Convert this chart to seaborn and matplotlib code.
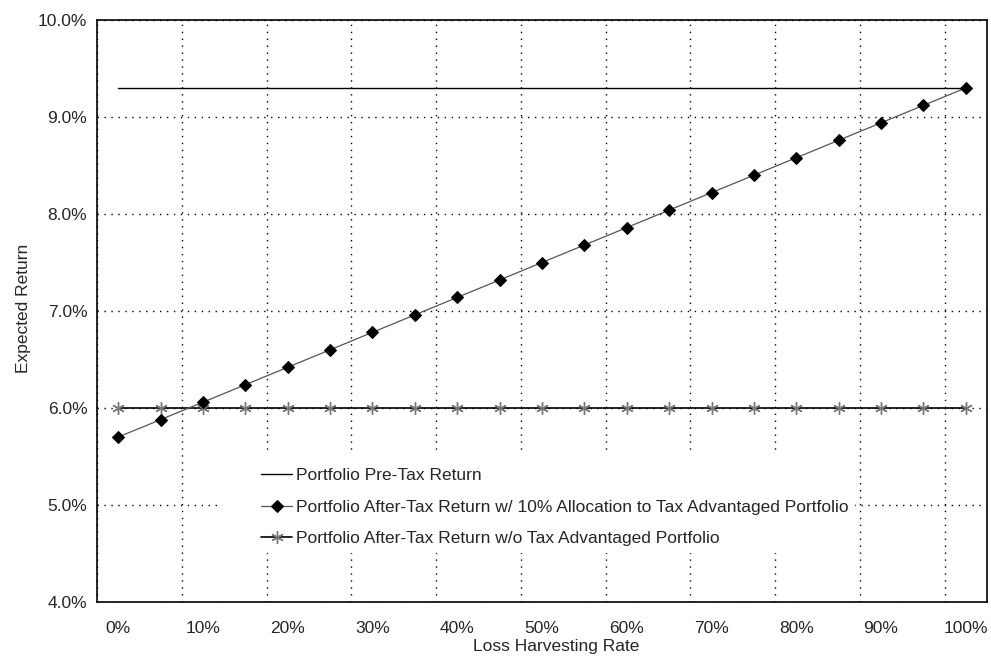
import numpy as np
import pandas as pd
import matplotlib
matplotlib.use('Agg')
import matplotlib.pyplot as plt
import seaborn as sns
from matplotlib.patches import Rectangle
from matplotlib.ticker import FuncFormatter

sns.set_style('white')
plt.rcParams['font.family'] = ['Liberation Sans', 'DejaVu Sans']

# Data (loss harvesting rate in 5% steps)
harvest_labels = ['0%', '5%', '10%', '15%', '20%', '25%', '30%', '35%', '40%', '45%', '50%',
                  '55%', '60%', '65%', '70%', '75%', '80%', '85%', '90%', '95%', '100%']
pre_tax = [9.30] * 21
after_tax_10 = [5.70, 5.88, 6.06, 6.24, 6.42, 6.60, 6.78, 6.96, 7.14, 7.32, 7.50,
                7.68, 7.86, 8.04, 8.22, 8.40, 8.58, 8.76, 8.94, 9.12, 9.30]
after_tax_none = [6.00] * 21

series_names = ['Portfolio Pre-Tax Return',
                'Portfolio After-Tax Return w/ 10% Allocation to Tax Advantaged Portfolio',
                'Portfolio After-Tax Return w/o Tax Advantaged Portfolio']

df = pd.DataFrame({
    'pos': list(range(len(harvest_labels))) * 3,
    'ret': pre_tax + after_tax_10 + after_tax_none,
    'series': [series_names[0]] * 21 + [series_names[1]] * 21 + [series_names[2]] * 21,
})

fs = 12.5

fig = plt.figure(figsize=(9.91, 6.56), dpi=100)
ax = fig.add_axes([97 / 991, 1 - 602 / 656, 890 / 991, 582 / 656])

sns.lineplot(data=df[df.series == series_names[0]], x='pos', y='ret', color='black',
             linewidth=1.0, ax=ax, label=series_names[0], zorder=4)
sns.lineplot(data=df[df.series == series_names[1]], x='pos', y='ret', color='#555555',
             linewidth=0.9, marker='D', markersize=6, markerfacecolor='black',
             markeredgecolor='black', ax=ax, label=series_names[1], zorder=5)
sns.lineplot(data=df[df.series == series_names[2]], x='pos', y='ret', color='black',
             linewidth=1.2, marker=(6, 2, 0), markersize=9, markeredgecolor='#777777',
             markeredgewidth=1.0, ax=ax, label=series_names[2], zorder=4)

# x axis: category axis, ticks/gridlines at every second category boundary
n = len(harvest_labels)
ax.set_xlim(-0.5, n - 0.5)
ax.set_xticks(np.arange(-0.5, n - 0.5, 2))
ax.set_xticklabels([])
ax.set_xticks(np.arange(0, n, 2), minor=True)
ax.set_xticklabels(harvest_labels[::2], minor=True)
ax.tick_params(axis='x', which='major', direction='out', length=5, width=1, color='black')
ax.tick_params(axis='x', which='minor', length=0, pad=14, labelsize=fs)

ax.set_ylim(4, 10)
ax.set_yticks(np.arange(4, 10.01, 1))
ax.yaxis.set_major_formatter(FuncFormatter(lambda v, p: f'{v:.1f}%'))
ax.tick_params(axis='y', direction='out', length=5, width=1, color='black', labelsize=fs, pad=2)

ax.grid(True, which='major', color='black', linestyle=(0, (1, 4)), linewidth=1.0)
ax.set_axisbelow(True)
for s in ax.spines.values():
    s.set_visible(True)
    s.set_color('black')
    s.set_linewidth(1.2)

ax.set_xlabel('Loss Harvesting Rate', fontsize=fs, labelpad=2, x=0.516)
ax.set_ylabel('Expected Return', fontsize=fs, labelpad=5, y=0.505)

# white legend area covering the gridlines
bg = Rectangle(((220 - 97) / 890, (602 - 553) / 582), (855 - 220) / 890, (553 - 452) / 582,
               transform=ax.transAxes, facecolor='white', edgecolor='none', zorder=2)
ax.add_patch(bg)

leg = ax.legend(loc='upper left', bbox_to_anchor=((261 - 97) / 890, (602 - 468) / 582),
                frameon=False, fontsize=fs, handlelength=1.8, handletextpad=0.2,
                labelspacing=0.95, borderaxespad=0, borderpad=0)
leg.set_zorder(6)

fig.savefig('out.png', dpi=100)
